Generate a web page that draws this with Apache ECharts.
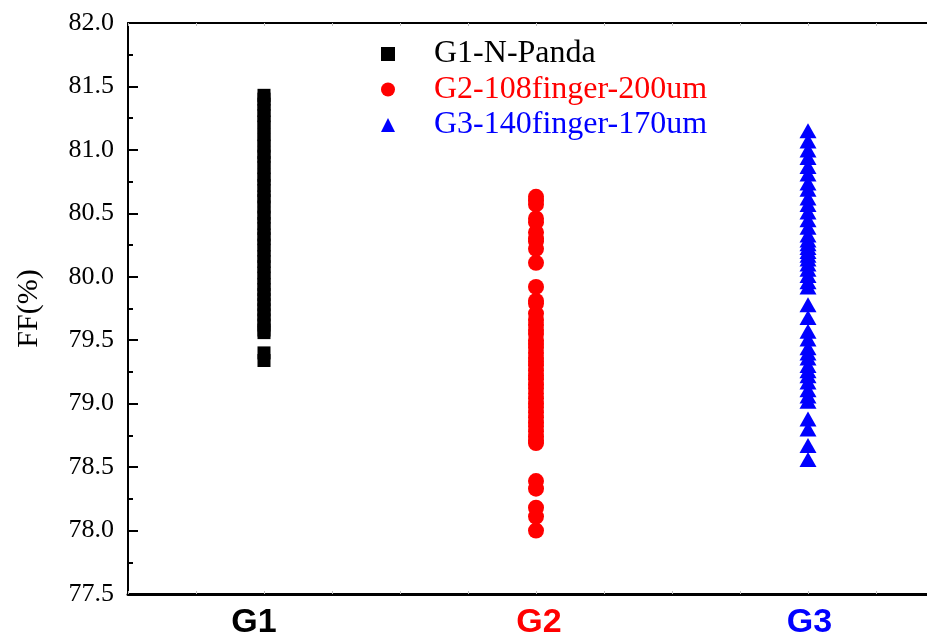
<!DOCTYPE html>
<html>
<head>
<meta charset="utf-8">
<title>FF distribution by group</title>
<script src="https://cdn.jsdelivr.net/npm/echarts@6/dist/echarts.min.js"></script>
<style>
  html, body { margin: 0; padding: 0; background: #fff; }
  #chart { width: 927px; height: 639px; }
</style>
</head>
<body>
<div id="chart"></div>
<script>
// Group names, their colours and the x position of each group
const groups = ['G1', 'G2', 'G3'];
const groupX = [1, 2, 3];
const groupLabelX = [0.963, 2.011, 3.005];
const seriesNames = ['G1-N-Panda', 'G2-108finger-200um', 'G3-140finger-170um'];
const colors = ['#000000', '#ff0000', '#0000ff'];

// Fill factor (%) of each measured cell
const g1FF = [
  81.43, 81.40, 81.36, 81.31, 81.27, 81.22, 81.18, 81.12, 81.08, 81.03,
  80.98, 80.95, 80.90, 80.86, 80.80, 80.77, 80.72, 80.68, 80.63, 80.60,
  80.55, 80.50, 80.47, 80.42, 80.38, 80.33, 80.30, 80.25, 80.21, 80.16,
  80.12, 80.08, 80.03, 79.99, 79.94, 79.90, 79.86, 79.82, 79.78, 79.74,
  79.70, 79.66, 79.62, 79.58, 79.56, 79.40, 79.34
];
const g2FF = [
  80.63, 80.60, 80.57, 80.46, 80.43, 80.35, 80.30, 80.28, 80.22, 80.11,
  79.92, 79.81, 79.79,
  79.71, 79.66, 79.62, 79.58, 79.55, 79.50, 79.47, 79.44, 79.40, 79.36,
  79.33, 79.30, 79.26, 79.22, 79.19, 79.15, 79.12, 79.08, 79.04, 79.00,
  78.97, 78.93, 78.89, 78.85, 78.82, 78.78, 78.74, 78.71, 78.69,
  78.39, 78.33, 78.18, 78.11, 78.00
];
const g3FF = [
  81.15, 81.07, 81.00, 80.94, 80.87, 80.81, 80.74, 80.69, 80.62, 80.57,
  80.51, 80.45, 80.39, 80.33,
  80.29, 80.26, 80.23, 80.20, 80.17, 80.14, 80.10, 80.06, 80.01, 79.96, 79.92,
  79.78, 79.68,
  79.57, 79.51, 79.44, 79.40, 79.36, 79.30, 79.26, 79.22, 79.17, 79.11, 79.06, 79.02,
  78.88, 78.80,
  78.67, 78.56
];

// Axis ranges and steps (the x range stops where the frame is cut at the right)
const yMin = 77.5;
const yMax = 82.0;
const yStep = 0.5;
const xMin = 0.5;
const xMax = 3.4375;
const xStep = 0.25;

const values = [g1FF, g2FF, g3FF];
const symbols = ['rect', 'circle', 'triangle'];
const symbolSizes = [13, 16, [17, 15]];

const chart = echarts.init(document.getElementById('chart'), null, { renderer: 'canvas' });

const series = values.map((arr, i) => ({
  name: seriesNames[i],
  type: 'scatter',
  xAxisIndex: 0,
  symbol: symbols[i],
  symbolSize: symbolSizes[i],
  itemStyle: { color: colors[i], opacity: 1 },
  data: arr.map(v => [groupX[i], v]),
  z: 3
}));

const faintTick = { show: true, inside: true, length: 3, lineStyle: { color: '#c0c0c0', width: 1 } };
const labelFont = 'Liberation Sans, Arial, sans-serif';
const serifFont = 'Liberation Serif, Times New Roman, serif';

chart.setOption({
  backgroundColor: '#ffffff',
  animation: false,
  grid: { left: 128, top: 23, right: 0, bottom: 45, containLabel: false, outerBoundsMode: 'none' },
  legend: {
    orient: 'vertical',
    left: 376,
    top: 33,
    itemWidth: 14,
    itemHeight: 14,
    itemGap: 3.5,
    selectedMode: false,
    textStyle: {
      fontFamily: serifFont,
      fontSize: 32,
      lineHeight: 32,
      padding: [0, 0, 0, 34]
    },
    data: seriesNames.map((n, i) => ({
      name: n,
      icon: symbols[i],
      textStyle: { color: colors[i] }
    }))
  },
  xAxis: [
    {
      type: 'value',
      position: 'bottom',
      min: xMin,
      max: xMax,
      interval: xStep,
      axisLine: { show: true, onZero: false, lineStyle: { color: '#000', width: 3 } },
      axisTick: faintTick,
      splitLine: { show: false },
      axisLabel: {
        show: true,
        customValues: groupLabelX,
        margin: 12,
        fontFamily: labelFont,
        fontWeight: 'bold',
        fontSize: 34,
        formatter: function (v) {
          let k = 0, best = Infinity;
          groupLabelX.forEach((x, i) => { const d = Math.abs(x - v); if (d < best) { best = d; k = i; } });
          return '{g' + k + '|' + groups[k] + '}';
        },
        rich: {
          g0: { color: colors[0], fontWeight: 'bold', fontSize: 34, fontFamily: labelFont },
          g1: { color: colors[1], fontWeight: 'bold', fontSize: 34, fontFamily: labelFont },
          g2: { color: colors[2], fontWeight: 'bold', fontSize: 34, fontFamily: labelFont }
        }
      }
    },
    {
      type: 'value',
      position: 'top',
      min: xMin,
      max: xMax,
      interval: xStep,
      axisLine: { show: true, onZero: false, lineStyle: { color: '#000', width: 2 } },
      axisTick: faintTick,
      axisLabel: { show: false },
      splitLine: { show: false }
    }
  ],
  yAxis: {
    type: 'value',
    min: yMin,
    max: yMax,
    interval: yStep,
    name: 'FF(%)',
    nameLocation: 'middle',
    nameRotate: 90,
    nameGap: 84,
    nameTextStyle: {
      fontFamily: serifFont,
      fontSize: 30,
      color: '#000'
    },
    axisLine: { show: true, onZero: false, lineStyle: { color: '#000', width: 2 } },
    axisTick: { show: true, inside: true, length: 10, lineStyle: { color: '#000', width: 2 } },
    minorTick: { show: true, splitNumber: 2, length: 5, lineStyle: { color: '#000', width: 2 } },
    splitLine: { show: false },
    axisLabel: {
      margin: 14,
      fontFamily: serifFont,
      fontSize: 26,
      color: '#000',
      formatter: v => v.toFixed(1)
    }
  },
  series: series
});
</script>
</body>
</html>
